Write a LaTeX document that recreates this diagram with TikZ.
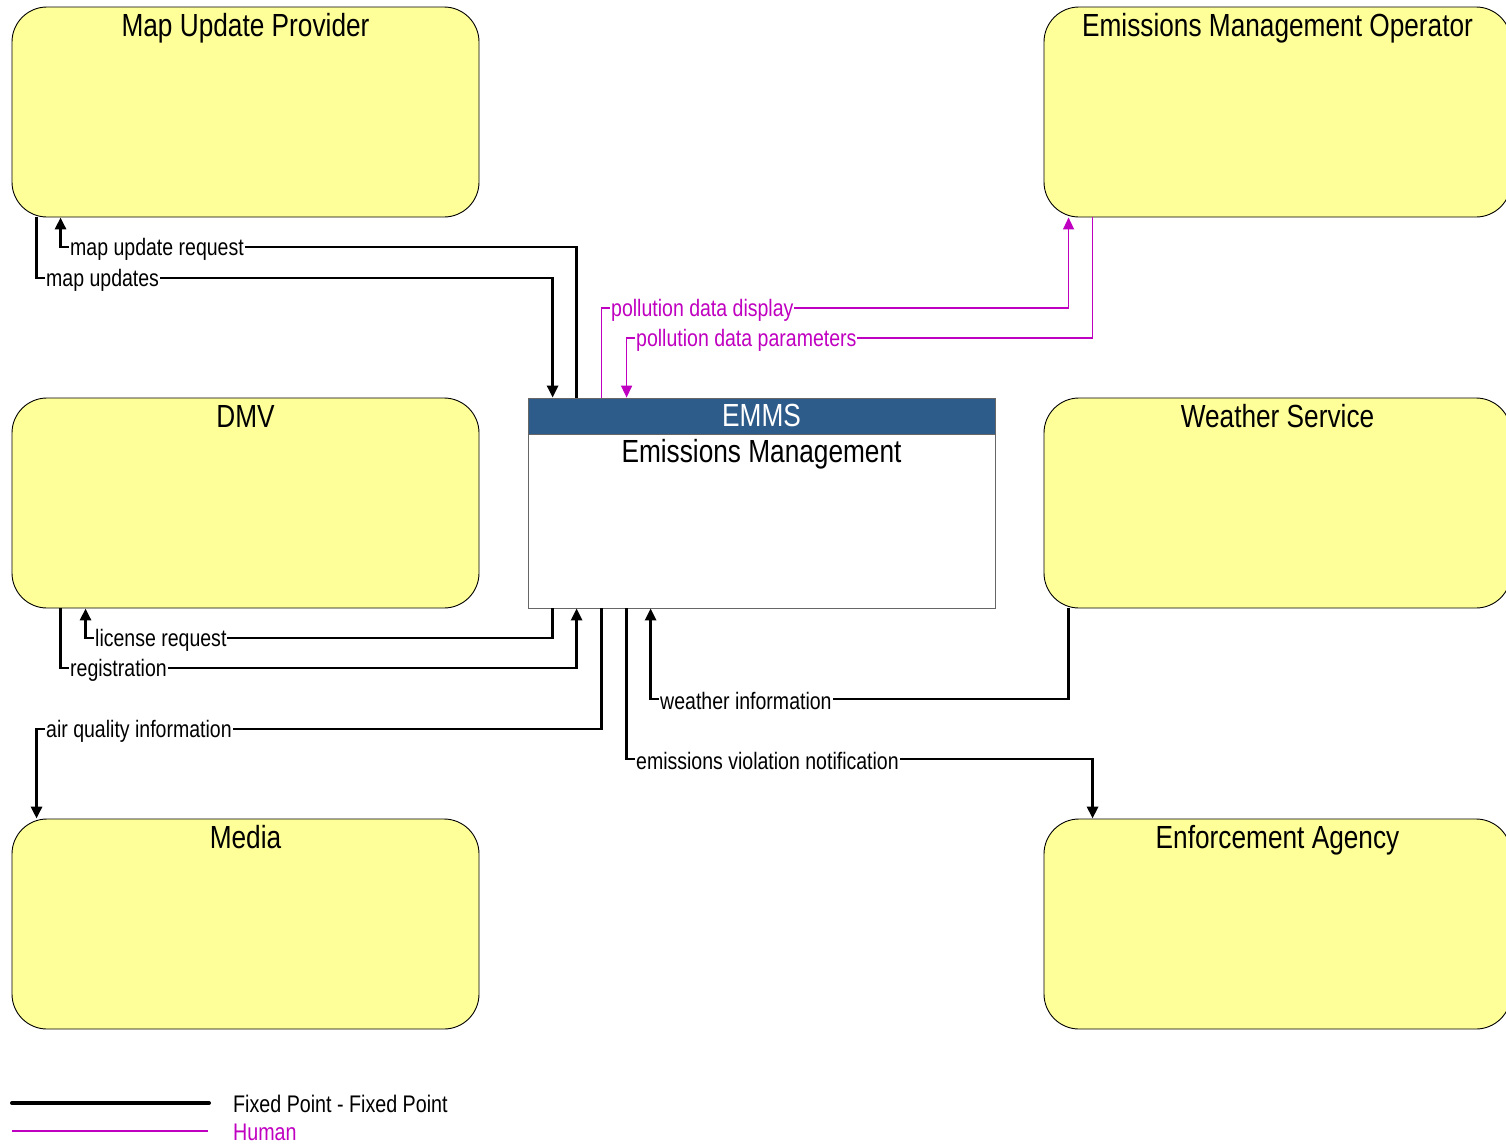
\documentclass[tikz,border=0pt]{standalone}
\usepackage{fontspec}
\setmainfont[FakeStretch=0.82]{Liberation Sans}
\usetikzlibrary{arrows.meta}
\definecolor{boxyellow}{RGB}{255,255,153}
\definecolor{hdrblue}{RGB}{46,92,138}
\definecolor{human}{RGB}{192,0,192}
\tikzset{
  ent/.style={draw=black, line width=0.9pt, fill=boxyellow, rounded corners=35pt,
    minimum width=467pt, minimum height=210pt, inner sep=0pt},
  ctr/.style={draw=black!60, line width=0.8pt, fill=white,
    minimum width=467pt, minimum height=210pt, inner sep=0pt},
  hdr/.style={draw=black!60, line width=0.8pt, fill=hdrblue,
    minimum width=467pt, minimum height=36pt, inner sep=0pt},
  ttl/.style={font=\fontsize{32}{36}\selectfont, anchor=base, inner sep=0pt},
  fp/.style={draw=black, line width=2.8pt, -{Triangle[length=12pt,width=11pt]}},
  hu/.style={draw=human, line width=1.4pt, -{Triangle[length=12pt,width=11pt]}},
  lab/.style={font=\fontsize{23.8}{26}\selectfont, fill=white, inner xsep=1pt, inner ysep=0pt, anchor=west, yshift=-2pt},
  leg/.style={font=\fontsize{24}{26}\selectfont, anchor=west, inner sep=0pt},
}
\begin{document}
\begin{tikzpicture}[x=1pt,y=-1pt]
\useasboundingbox (0,0) rectangle (1506,1143);
% entities
\node[ent] (mup) at (245.5,112) {};
\node[ent] (dmv) at (245.5,503) {};
\node[ent] (media) at (245.5,924) {};
\node[ent] (emo) at (1277.5,112) {};
\node[ent] (ws) at (1277.5,503) {};
\node[ent] (ea) at (1277.5,924) {};
\node[ctr] (emms) at (761.5,503) {};
\node[hdr, anchor=north] (emmsh) at (emms.north) {};
\node[ttl] (t1) at ([yshift=-30pt]mup.north) {Map Update Provider};
\node[ttl] (t2) at ([yshift=-30pt]dmv.north) {DMV};
\node[ttl] (t3) at ([yshift=-30pt]media.north) {Media};
\node[ttl] (t4) at ([yshift=-30pt]emo.north) {Emissions Management Operator};
\node[ttl] (t5) at ([yshift=-30pt]ws.north) {Weather Service};
\node[ttl] (t6) at ([yshift=-30pt]ea.north) {Enforcement Agency};
\node[ttl, text=white] (t7) at ([yshift=-29pt]emms.north) {EMMS};
\node[ttl] (t8) at ([yshift=-65pt]emms.north) {Emissions Management};
% label anchors
\coordinate (l1) at (69,247);
\coordinate (l2) at (45,278);
\coordinate (l3) at (610,308);
\coordinate (l4) at (635,338);
\coordinate (l5) at (94,638);
\coordinate (l6) at (69,668);
\coordinate (l7) at (45,729);
\coordinate (l8) at (659,699);
\coordinate (l9) at (635,759);
% connectors
\draw[fp] ([xshift=49pt]emms.north west) |- (l1) -| ([xshift=49pt]mup.south west);
\draw[fp] ([xshift=25pt]mup.south west) |- (l2) -| ([xshift=25pt]emms.north west);
\draw[hu] ([xshift=74pt]emms.north west) |- (l3) -| ([xshift=25pt]emo.south west);
\draw[hu] ([xshift=49pt]emo.south west) |- (l4) -| ([xshift=99pt]emms.north west);
\draw[fp] ([xshift=25pt]emms.south west) |- (l5) -| ([xshift=74pt]dmv.south west);
\draw[fp] ([xshift=49pt]dmv.south west) |- (l6) -| ([xshift=49pt]emms.south west);
\draw[fp] ([xshift=74pt]emms.south west) |- (l7) -| ([xshift=25pt]media.north west);
\draw[fp] ([xshift=25pt]ws.south west) |- (l8) -| ([xshift=123pt]emms.south west);
\draw[fp] ([xshift=99pt]emms.south west) |- (l9) -| ([xshift=49pt]ea.north west);
% labels
\node[lab] (n1) at (l1) {map update request};
\node[lab] (n2) at (l2) {map updates};
\node[lab, text=human] (n3) at (l3) {pollution data display};
\node[lab, text=human] (n4) at (l4) {pollution data parameters};
\node[lab] (n5) at (l5) {license request};
\node[lab] (n6) at (l6) {registration};
\node[lab] (n7) at (l7) {air quality information};
\node[lab] (n8) at (l8) {weather information};
\node[lab] (n9) at (l9) {emissions violation notification};
% legend
\coordinate (a1) at (12,1103);
\coordinate (a2) at (209,1103);
\coordinate (b1) at (12,1131);
\coordinate (b2) at (208,1131);
\draw[black, line width=4pt, line cap=round] (a1) -- (a2);
\draw[human, line width=1.2pt] (b1) -- (b2);
\node[leg] (g1) at (233,1104) {Fixed Point - Fixed Point};
\node[leg, text=human] (g2) at (233,1132) {Human};
\end{tikzpicture}
\end{document}
